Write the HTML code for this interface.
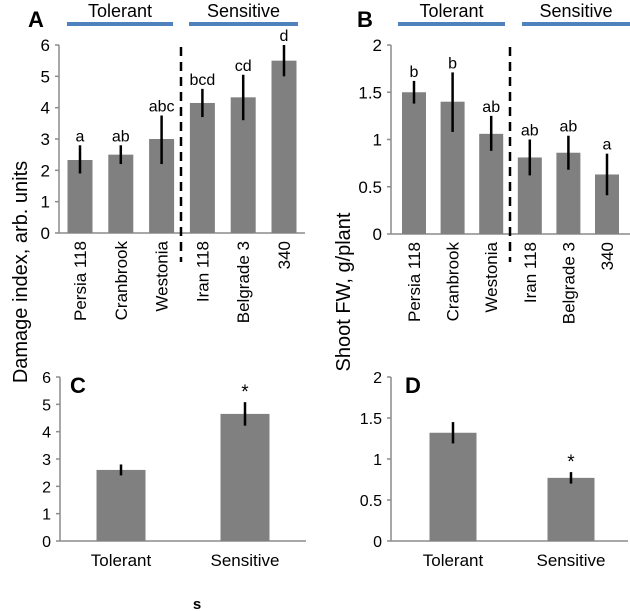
<!DOCTYPE html>
<html><head><meta charset="utf-8"><style>
body{margin:0;background:#fff;}
svg{display:block;font-family:"Liberation Sans",Arial,sans-serif;}
</style></head><body>
<svg id="fig" width="630" height="611" viewBox="0 0 630 611"></svg>
<script>
const catsTop = ["Persia 118","Cranbrook","Westonia","Iran 118","Belgrade 3","340"];
const valsA = [2.33,2.5,3.0,4.15,4.33,5.5];
const loA = [1.9,2.2,2.2,3.7,3.6,5.0];
const hiA = [2.8,2.8,3.75,4.6,5.05,6.0];
const letA = ["a","ab","abc","bcd","cd","d"];
const ticksA = [0,1,2,3,4,5,6];
const valsB = [1.5,1.4,1.06,0.81,0.86,0.63];
const loB = [1.38,1.08,0.88,0.62,0.68,0.41];
const hiB = [1.62,1.71,1.25,1.0,1.04,0.85];
const letB = ["b","b","ab","ab","ab","a"];
const ticksB = [0,0.5,1,1.5,2];
const catsBot = ["Tolerant","Sensitive"];
const valsC = [2.6,4.65];
const loC = [2.4,4.22];
const hiC = [2.8,5.08];
const valsD = [1.32,0.77];
const loD = [1.19,0.7];
const hiD = [1.45,0.84];
const sigC = ["","*"];
const sigD = ["","*"];
const ticksD = [0,0.5,1,1.5,2];

const NS="http://www.w3.org/2000/svg";
const svg=document.getElementById('fig');
function mk(tag,attrs,parent,text){const e=document.createElementNS(NS,tag);for(const k in attrs)e.setAttribute(k,attrs[k]);if(text!==undefined)e.textContent=text;(parent||svg).appendChild(e);return e;}

function panel(o){
  const g=mk('g',{});
  
  
  const y=v=>o.y0-(v/o.max)*(o.y0-o.ytop);
  const x=i=>o.x0+o.first+i*o.step;
  const ax=mk('line',{x1:o.x0,y1:o.ytop,x2:o.x0,y2:o.y0,stroke:'#8c8c8c','stroke-width':1.5},g);
  
  const xa=mk('line',{x1:o.x0,y1:o.y0,x2:o.xr,y2:o.y0,stroke:'#8c8c8c','stroke-width':1.5},g);
  
  o.ticks.forEach(t=>{
    mk('line',{x1:o.x0-4,y1:y(t),x2:o.x0,y2:y(t),stroke:'#8c8c8c','stroke-width':1.5},g);
    const tl=mk('text',{x:o.x0-9,y:y(t)+6,'text-anchor':'end','font-size':o.tfs,fill:'#000'},g,String(t));
    
  });
  o.vals.forEach((v,i)=>{
    const b=mk('rect',{x:x(i)-o.bw/2,y:y(v),width:o.bw,height:o.y0-y(v),fill:'#808080'},g);
    
    
    const e=mk('line',{x1:x(i),y1:y(o.hi[i]),x2:x(i),y2:y(o.lo[i]),stroke:'#000','stroke-width':2.5},g);
    
    if(o.lets&&o.lets[i]){
      const l=mk('text',{x:x(i),y:y(o.hi[i])-4,'text-anchor':'middle','font-size':o.lfs,fill:'#000'},g,o.lets[i]);
      
    }
    if(o.rot){
      const c=mk('text',{x:0,y:0,'text-anchor':'end','font-size':17,fill:'#000',transform:`translate(${x(i)+6},${o.y0+8}) rotate(-90)`},g,o.cats[i]);
      
    } else {
      const c=mk('text',{x:x(i),y:o.y0+25,'text-anchor':'middle','font-size':17,fill:'#000'},g,o.cats[i]);
      
    }
  });
  return {g,x,y};
}

const A=panel({name:'panel-a',x0:59,xr:305,y0:233,ytop:45,max:6,first:21,step:40.8,bw:25,vals:valsA,lo:loA,hi:hiA,lets:letA,cats:catsTop,ticks:ticksA,rot:true,tfs:17,lfs:16});
const B=panel({name:'panel-b',x0:391,xr:630,y0:234,ytop:45,max:2,first:23,step:38.6,bw:24,vals:valsB,lo:loB,hi:hiB,lets:letB,cats:catsTop,ticks:ticksB,rot:true,tfs:17,lfs:16});
const C=panel({name:'panel-c',x0:60,xr:306,y0:541,ytop:377,max:6,first:61,step:124,bw:49,vals:valsC,lo:loC,hi:hiC,lets:sigC,cats:catsBot,ticks:ticksA,rot:false,tfs:16,lfs:19});
const D=panel({name:'panel-d',x0:391,xr:628,y0:541,ytop:377,max:2,first:62,step:118,bw:47,vals:valsD,lo:loD,hi:hiD,lets:sigD,cats:catsBot,ticks:ticksD,rot:false,tfs:16,lfs:19});

function dashed(xx,name){const l=mk('line',{x1:xx,y1:47,x2:xx,y2:262,stroke:'#000','stroke-width':2.5,'stroke-dasharray':'9,6'});}
dashed(181,'group-divider-a');dashed(510,'group-divider-b');

function groupBar(x1,x2,label,name){
  const l=mk('line',{x1:x1,y1:24,x2:x2,y2:24,stroke:'#4f81bd','stroke-width':4});
  
  const t=mk('text',{x:(x1+x2)/2,y:17,'text-anchor':'middle','font-size':18,fill:'#000'},svg,label);
  
}
groupBar(67,173,'Tolerant','group-tolerant-a');groupBar(189,298,'Sensitive','group-sensitive-a');
groupBar(398,505,'Tolerant','group-tolerant-b');groupBar(522,630,'Sensitive','group-sensitive-b');

function lbl(x,y,t,name){const e=mk('text',{x:x,y:y,'font-size':22,'font-weight':'bold',fill:'#000'},svg,t);}
lbl(28,27,'A','panel-label-a');lbl(357,27,'B','panel-label-b');lbl(70,393,'C','panel-label-c');lbl(405,393,'D','panel-label-d');

function ylab(x,y,t,name){const e=mk('text',{x:0,y:0,'text-anchor':'middle','font-size':20,fill:'#000',transform:`translate(${x},${y}) rotate(-90)`},svg,t);}
ylab(27,272,'Damage index, arb. units','y-axis-title-damage');
ylab(350,292,'Shoot FW, g/plant','y-axis-title-shoot-fw');

const s=mk('text',{x:197,y:609,'text-anchor':'middle','font-size':15,'font-weight':'bold',fill:'#000'},svg,'s');

</script>
</body></html>
